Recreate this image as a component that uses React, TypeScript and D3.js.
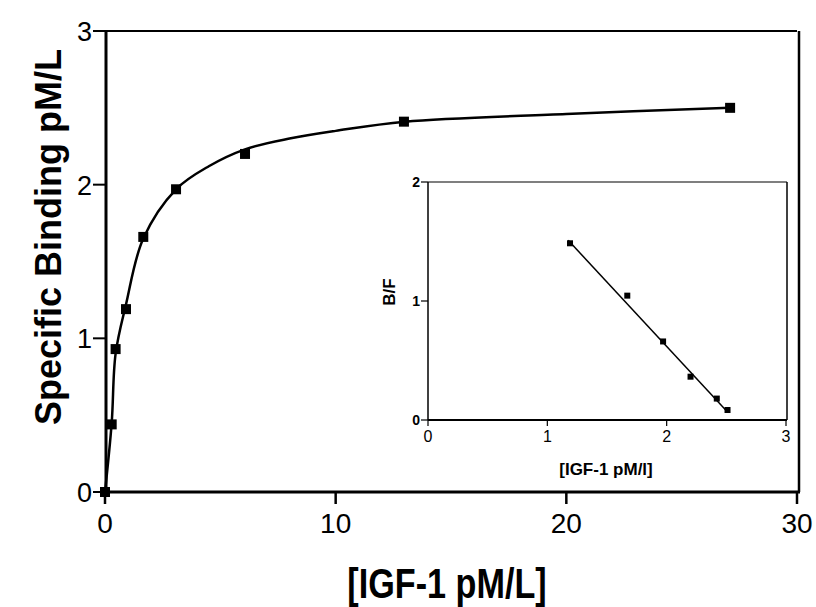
import React from 'react';
import { scaleLinear, line, curveCatmullRom, curveLinear } from 'd3';

// main saturation plot: measured points
const bindingConc = [0, 0.29, 0.46, 0.91, 1.66, 3.08, 6.07, 12.96, 27.1];
const bindingBound = [0, 0.44, 0.93, 1.19, 1.66, 1.97, 2.2, 2.41, 2.5];

// fitted curve
const fitConc = [0, 0.29, 0.46, 0.91, 1.66, 3.08, 4.5, 6.07, 8, 10, 13, 20, 27.1];
const fitBound = [0, 0.45, 0.9, 1.22, 1.65, 1.97, 2.12, 2.23, 2.3, 2.35, 2.41, 2.46, 2.5];

const mainXTicks = [0, 10, 20, 30];
const mainYTicks = [0, 1, 2, 3];

// inset scatchard plot
const scatB = [1.19, 1.67, 1.97, 2.2, 2.42, 2.51];
const scatBF = [1.485, 1.045, 0.66, 0.364, 0.18, 0.084];
const scatFitB = [1.175, 2.51];
const scatFitBF = [1.51, 0.067];

const insetXTicks = [0, 1, 2, 3];
const insetYTicks = [0, 1, 2];

const font = '"Liberation Sans", Arial, sans-serif';

export default function App() {
  const width = 816, height = 607;

  const x = scaleLinear().domain([0, 30]).range([105, 797]);
  const y = scaleLinear().domain([0, 3]).range([492, 31]);

  const ix = scaleLinear().domain([0, 3]).range([428, 786]);
  const iy = scaleLinear().domain([0, 2]).range([420, 182]);

  const fitPts = fitConc.map((c, i) => [c, fitBound[i]] as [number, number]);
  const fitLine = line<[number, number]>()
    .x(d => x(d[0]))
    .y(d => y(d[1]))
    .curve(curveCatmullRom.alpha(0.5));

  const scatPts = scatFitB.map((b, i) => [b, scatFitBF[i]] as [number, number]);
  const scatLine = line<[number, number]>()
    .x(d => ix(d[0]))
    .y(d => iy(d[1]))
    .curve(curveLinear);

  const ms = 10, ims = 6;

  return (
    <svg width={width} height={height} style={{ position: 'absolute', left: 0, top: 0, background: '#fff' }}
      fontFamily={font}>
      <rect x={0} y={0} width={width} height={height} fill="#fff" />

      {/* main frame */}
      <line x1={x(0)} x2={x(30)} y1={y(3)} y2={y(3)} stroke="#000" strokeWidth={2} />
      <line x1={x(30) + 2} x2={x(30) + 2} y1={y(3)} y2={y(0)} stroke="#000" strokeWidth={2.5} />
      <line x1={x(0) + 1} x2={x(0) + 1} y1={y(3)} y2={y(0)} stroke="#000" strokeWidth={3} />
      <line x1={x(0)} x2={x(30) + 3} y1={y(0)} y2={y(0)} stroke="#000" strokeWidth={3} />

      {mainYTicks.map(t => (
        <g key={'my' + t}>
          <line x1={x(0) - 12} x2={x(0)} y1={y(t)} y2={y(t)} stroke="#000" strokeWidth={2} />
          <text x={x(0) - 13} y={y(t) + 10} fontSize={27} textAnchor="end">{t}</text>
        </g>
      ))}
      {mainXTicks.map(t => (
        <g key={'mx' + t}>
          <line x1={x(t)} x2={x(t)} y1={y(0)} y2={y(0) + 12} stroke="#000" strokeWidth={2.5} />
          <text x={x(t)} y={533} fontSize={28} textAnchor="middle">{t}</text>
        </g>
      ))}

      <text transform={`translate(447,598) scale(0.9,1.1)`} fontSize={38} fontWeight="bold" textAnchor="middle">[IGF-1 pM/L]</text>
      <text transform={`translate(61,237) rotate(-90)`} fontSize={36} fontWeight="bold" textAnchor="middle">Specific Binding pM/L</text>

      <path d={fitLine(fitPts) || ''} fill="none" stroke="#000" strokeWidth={2.5} />
      {bindingConc.map((c, i) => (
        <rect key={'mp' + i} x={x(c) - ms / 2} y={y(bindingBound[i]) - ms / 2} width={ms} height={ms} fill="#000" />
      ))}

      {/* inset */}
      <rect x={ix(0)} y={iy(2)} width={ix(3) - ix(0)} height={iy(0) - iy(2)} fill="#fff" stroke="none" />
      <line x1={ix(0)} x2={ix(3) + 1} y1={iy(2)} y2={iy(2)} stroke="#000" strokeWidth={1.2} />
      <line x1={ix(3) + 1} x2={ix(3) + 1} y1={iy(2)} y2={iy(0)} stroke="#000" strokeWidth={1.5} />
      <line x1={ix(0)} x2={ix(0)} y1={iy(2)} y2={iy(0)} stroke="#000" strokeWidth={1.5} />
      <line x1={ix(0)} x2={ix(3) + 1} y1={iy(0)} y2={iy(0)} stroke="#000" strokeWidth={2} />

      {insetYTicks.map(t => (
        <g key={'iy' + t}>
          <line x1={ix(0) - 7} x2={ix(0)} y1={iy(t)} y2={iy(t)} stroke="#000" strokeWidth={1.2} />
          <text x={ix(0) - 8} y={iy(t) + 5} fontSize={14} fontWeight="bold" textAnchor="end">{t}</text>
        </g>
      ))}
      {insetXTicks.map(t => (
        <g key={'ix' + t}>
          <line x1={ix(t)} x2={ix(t)} y1={iy(0)} y2={iy(0) + 6} stroke="#000" strokeWidth={1.2} />
          <text x={ix(t)} y={442} fontSize={16} textAnchor="middle">{t}</text>
        </g>
      ))}

      <text x={606} y={475} fontSize={17} fontWeight="bold" textAnchor="middle">[IGF-1 pM/l]</text>
      <text transform={`translate(395,292) rotate(-90)`} fontSize={17} fontWeight="bold" textAnchor="middle">B/F</text>

      <path d={scatLine(scatPts) || ''} fill="none" stroke="#000" strokeWidth={1.5} />
      {scatB.map((b, i) => (
        <rect key={'ip' + i} x={ix(b) - ims / 2} y={iy(scatBF[i]) - ims / 2} width={ims} height={ims} fill="#000" />
      ))}
    </svg>
  );
}
